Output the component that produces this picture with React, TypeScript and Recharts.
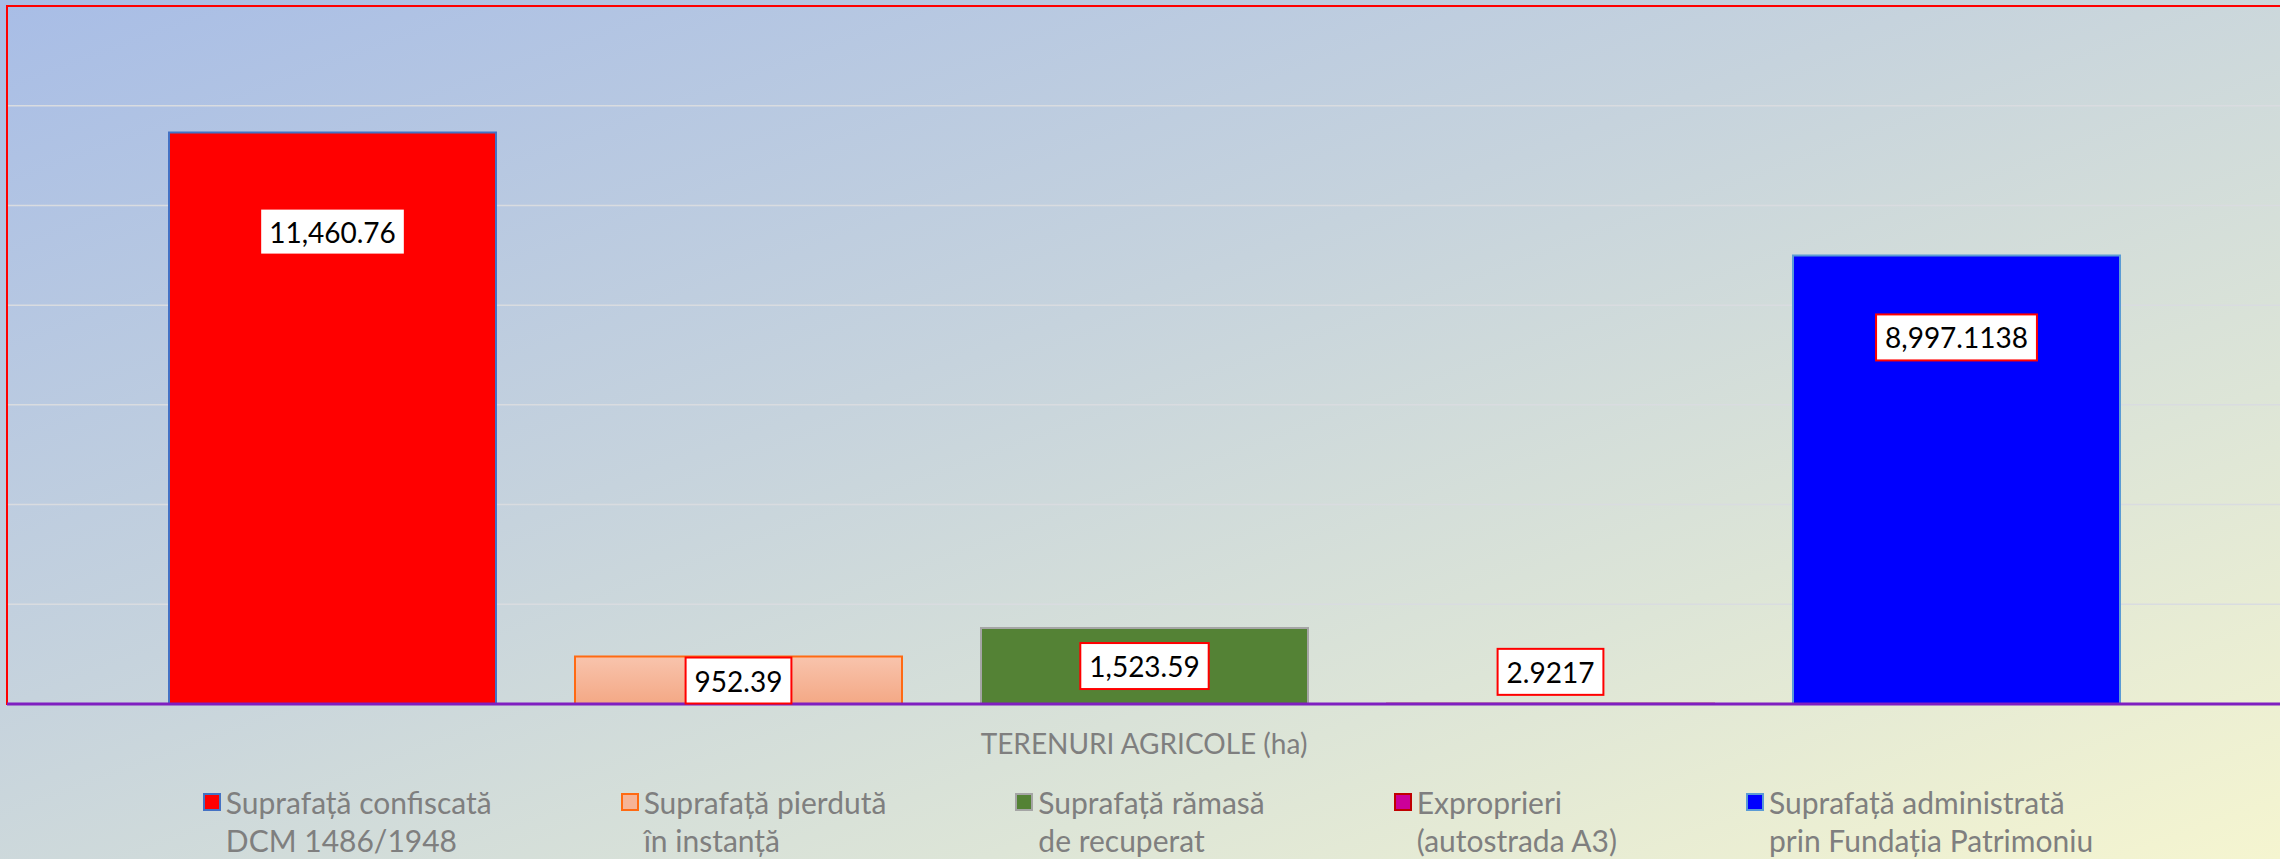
import { BarChart, Bar, XAxis, YAxis, CartesianGrid, Legend, LabelList, ReferenceArea } from "recharts";

const category = "TERENURI AGRICOLE (ha)";

const seriesNames = [
  "Suprafață confiscată\nDCM 1486/1948",
  "Suprafață pierdută\nîn instanță",
  "Suprafață rămasă\nde recuperat",
  "Exproprieri\n(autostrada A3)",
  "Suprafață administrată\nprin Fundația Patrimoniu",
];

const seriesValues = [11460.76, 952.39, 1523.59, 2.9217, 8997.1138];

const yTicks = [0, 2000, 4000, 6000, 8000, 10000, 12000, 14000];

const fills = ["#ff0000", "url(#orangeFill)", "#548235", "#cc0099", "#0000ff"];
const legendFills = ["#ff0000", "#f6b497", "#548235", "#cc0099", "#0000ff"];
const strokes = ["#4472c4", "#ff6a13", "#a5a5a5", "#c00000", "#5b9bd5"];
// where each label box sits, measured from the bar top (px)
const labelDy = [99, 24, 38, -32, 82];

const keys = seriesValues.map((_, i) => "s" + i);
const data = [
  keys.reduce((row: any, k, i) => ({ ...row, [k]: seriesValues[i] }), { name: category }),
];

const LABEL_FONT = "28px Lato";
const ctx = document.createElement("canvas").getContext("2d");

function textWidth(t: string) {
  if (!ctx) return t.length * 15;
  ctx.font = LABEL_FONT;
  return ctx.measureText(t).width;
}

const fmt = (v: number) => v.toLocaleString("en-US", { maximumFractionDigits: 4 });

function makeLabel(dy: number) {
  return (props: any) => {
    const { x, y, width, value } = props;
    const t = fmt(Number(value));
    const w = textWidth(t) + 18;
    const h = 46;
    const cx = x + width / 2;
    const cy = y + dy;
    return (
      <g>
        <rect x={cx - w / 2} y={cy - h / 2} width={w} height={h} fill="#ffffff" stroke="#ff0000" strokeWidth={2} />
        <text x={cx} y={cy} textAnchor="middle" dominantBaseline="central" fontFamily="Lato" fontSize={28} fill="#000000">
          {t}
        </text>
      </g>
    );
  };
}

// legend keeps the series order (recharts would sort it by name)
function renderLegend() {
  return (
    <div
      style={{
        display: "flex",
        justifyContent: "center",
        gap: 129,
        fontFamily: "Lato",
        fontSize: 30,
        lineHeight: "38px",
        color: "#7f7f7f",
      }}
    >
      {seriesNames.map((n, i) => (
        <div key={i} style={{ display: "flex", alignItems: "flex-start" }}>
          <div
            style={{
              width: 14,
              height: 14,
              marginTop: 10,
              marginRight: 5,
              background: legendFills[i],
              border: "2px solid " + strokes[i],
            }}
          />
          <div style={{ whiteSpace: "pre" }}>{n}</div>
        </div>
      ))}
    </div>
  );
}

export default function App() {
  return (
    <div
      style={{
        position: "absolute",
        left: 0,
        top: 0,
        width: 2280,
        height: 859,
        overflow: "hidden",
        background:
          "linear-gradient(160deg, #a8bde6 0%, #c6d3dd 42%, #dde5d7 72%, #f5f5d0 100%)",
      }}
    >
      <BarChart
        width={2282}
        height={859}
        data={data}
        margin={{ top: 6, right: 1, bottom: 95, left: 7 }}
        barGap={79}
        barSize={327}
      >
        <defs>
          <linearGradient id="orangeFill" x1="0" y1="0" x2="0" y2="1">
            <stop offset="0%" stopColor="#f8c4ad" />
            <stop offset="100%" stopColor="#f4a885" />
          </linearGradient>
        </defs>
        <CartesianGrid vertical={false} stroke="#d9dce0" strokeWidth={1.5} />
        <ReferenceArea y1={0} y2={14000} fill="none" stroke="#ff0000" strokeWidth={2} />
        <XAxis
          dataKey="name"
          height={60}
          tickLine={false}
          tickMargin={24}
          axisLine={{ stroke: "#7f1fc0", strokeWidth: 3 }}
          tick={{ fill: "#7f7f7f", fontFamily: "Lato", fontSize: 28 }}
        />
        <YAxis hide domain={[0, 14000]} ticks={yTicks} />
        {keys.map((k, i) => (
          <Bar
            key={k}
            dataKey={k}
            name={seriesNames[i]}
            fill={fills[i]}
            stroke={strokes[i]}
            strokeWidth={2}
            isAnimationActive={false}
          >
            <LabelList dataKey={k} content={makeLabel(labelDy[i])} />
          </Bar>
        ))}
        <Legend
          layout="horizontal"
          verticalAlign="middle"
          align="center"
          content={renderLegend}
          wrapperStyle={{ top: 783, left: 8, width: 2280 }}
        />
      </BarChart>
    </div>
  );
}
